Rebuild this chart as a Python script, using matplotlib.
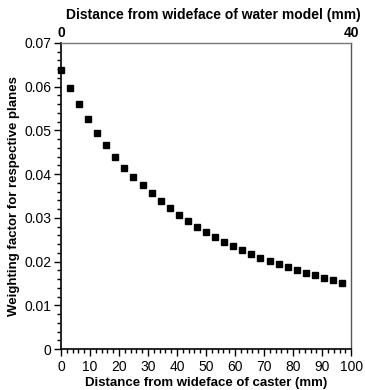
import matplotlib
matplotlib.use("Agg")
import matplotlib.pyplot as plt
from matplotlib.ticker import MultipleLocator, FixedLocator
import numpy as np

plt.rcParams['font.family'] = ['Liberation Sans', 'DejaVu Sans']

# Data
distance_caster = [0, 3.125, 6.25, 9.375, 12.5, 15.625, 18.75, 21.875, 25, 28.125,
                   31.25, 34.375, 37.5, 40.625, 43.75, 46.875, 50, 53.125, 56.25, 59.375,
                   62.5, 65.625, 68.75, 71.875, 75, 78.125, 81.25, 84.375, 87.5, 90.625,
                   93.75, 96.875]
weighting = [0.0638, 0.0598, 0.0560, 0.0526, 0.0494, 0.0466, 0.0440, 0.0415, 0.0394, 0.0374,
             0.0356, 0.0338, 0.0323, 0.0307, 0.0293, 0.0280, 0.0268, 0.0256, 0.0245, 0.0236,
             0.0226, 0.0217, 0.0209, 0.0201, 0.0194, 0.0187, 0.0181, 0.0174, 0.0169, 0.0163,
             0.0157, 0.0152]
bottom_ticks = [0, 10, 20, 30, 40, 50, 60, 70, 80, 90, 100]
y_ticks = [0, 0.01, 0.02, 0.03, 0.04, 0.05, 0.06, 0.07]
y_tick_labels = ['0', '0.01', '0.02', '0.03', '0.04', '0.05', '0.06', '0.07']
top_ticks = [0, 40]

fig = plt.figure(figsize=(3.65, 3.9), dpi=100)
ax = fig.add_axes([0.167, 0.105, 0.795, 0.785])
ax.plot(distance_caster, weighting, 's', color='black', markersize=5, clip_on=False)

ax.set_xlim(0, 100)
ax.set_ylim(0, 0.07)
ax.xaxis.set_major_locator(FixedLocator(bottom_ticks))
ax.xaxis.set_minor_locator(MultipleLocator(2))
ax.yaxis.set_major_locator(FixedLocator(y_ticks))
ax.set_yticklabels(y_tick_labels)
ax.yaxis.set_minor_locator(MultipleLocator(0.002))
ax.tick_params(axis='both', which='major', direction='out', length=5, width=1,
               labelsize=10, colors='black')
ax.tick_params(axis='x', which='major', pad=3)
ax.tick_params(axis='y', which='major', pad=2)
ax.tick_params(axis='both', which='minor', direction='out', length=3, width=1)

for side in ['left', 'bottom']:
    ax.spines[side].set_linewidth(1.2)
    ax.spines[side].set_color('black')
ax.spines['top'].set_color('#777777')
ax.spines['top'].set_linewidth(1.0)
ax.spines['right'].set_color('#555555')
ax.spines['right'].set_linewidth(1.0)

ax.set_xlabel('Distance from wideface of caster (mm)', fontsize=9.5, fontweight='bold', labelpad=2)
ax.set_ylabel('Weighting factor for respective planes', fontsize=9.5, fontweight='bold', labelpad=3)

# Top axis: water model scale (0-40 mm mapped to 0-100 mm caster)
sec = ax.secondary_xaxis('top', functions=(lambda x: x * 0.4, lambda x: x / 0.4))
sec.set_xticks(top_ticks)
sec.tick_params(axis='x', length=0, labelsize=10, pad=2)
for lbl in sec.get_xticklabels():
    lbl.set_fontweight('bold')
sec.spines['top'].set_visible(False)
fig.text(0.584, 0.962, 'Distance from wideface of water model (mm)', fontsize=10,
         fontweight='bold', ha='center', va='center')

fig.savefig('out.png', dpi=100)
